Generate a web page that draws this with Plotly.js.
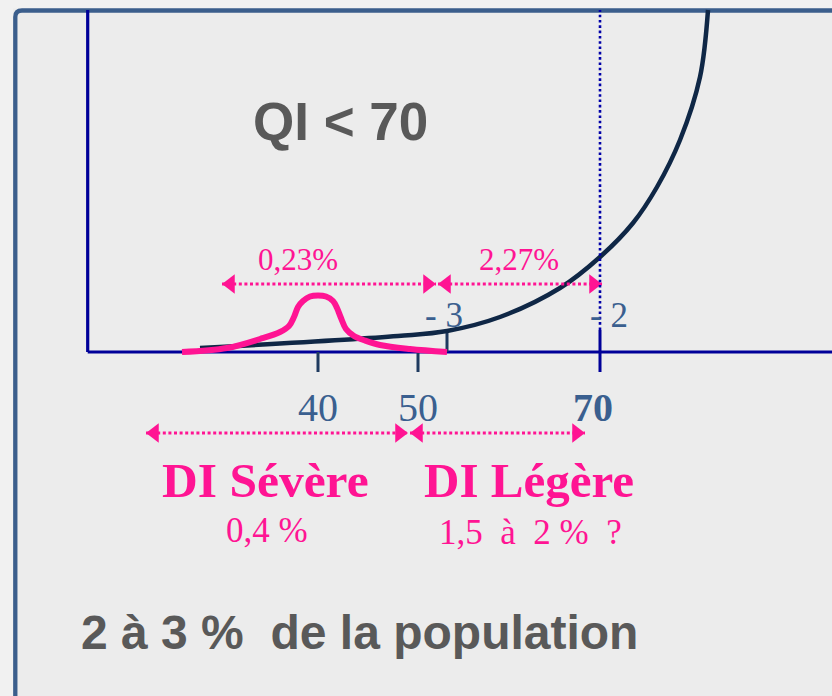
<!DOCTYPE html>
<html>
<head>
<meta charset="utf-8">
<script src="https://cdn.plot.ly/plotly-3.0.1.min.js"></script>
<style>html,body{margin:0;padding:0;background:#ececec;}#chart{width:832px;height:696px;}</style>
</head>
<body>
<div id="chart"></div>
<script>
// ---- data (schematic QI axis; 1 unit = 10 px, y = height above baseline) ----
const curveX = [28.2, 48.0, 52.9, 58.2, 64.2, 68.2, 71.5, 73.9, 76.2, 78.2, 79.0];
const curveY = [4, 16, 21, 35, 64, 95, 129, 165, 212, 275, 342];

const bellX = [26.4, 30.9, 34.2, 36.2, 37.1, 37.6, 38.0, 38.5, 39.2, 40.0, 40.8, 41.5, 41.9, 42.3, 42.8, 43.6, 44.7, 46.2, 49.2, 52.9];
const bellY = [0, 4, 13, 20, 26, 35, 45, 51, 55.5, 56.5, 55.5, 51, 44, 34, 23, 16, 11.5, 7, 3, 0];

const qiTickVals = [40, 50, 68.2];
const qiTickText = ['40', '50', '<b>70</b>'];
const sigmaPos = [52.9, 68.2];
const sigmaText = ['- 3', '- 2'];

const pctRanges = [[30.4, 51.8], [52.0, 68.4]];
const pctLabels = ['0,23%', '2,27%'];
const diRanges = [[22.8, 49.0], [49.2, 66.7]];
const diTitles = ['DI Sévère', 'DI Légère'];
const diShares = ['0,4 %', '1,5\u00a0\u00a0à\u00a0\u00a02 %\u00a0\u00a0?'];

const headline = 'QI < 70';
const footer = '2 à 3 %\u00a0\u00a0de la population';

// ---- styles ----
const PINK = '#ff1493';
const NAVY = '#0f2746';
const AXIS = '#000099';
const SLATE = '#3a5f8f';
const GREY = '#595959';
const SERIF = 'Liberation Serif, serif';
const SANS = 'Liberation Sans, Arial, sans-serif';
const pctY = 68, diY = -81, headSize = 17;
const headOff = headSize / 2 / 10;

const traces = [];
traces.push({x: curveX, y: curveY, mode: 'lines', line: {color: NAVY, width: 4.5, shape: 'spline', smoothing: 1}, hoverinfo: 'skip'});
traces.push({x: bellX, y: bellY, mode: 'lines', line: {color: PINK, width: 6, shape: 'spline', smoothing: 1}, hoverinfo: 'skip'});

function addArrow(r, y) {
  traces.push({x: [r[0], r[1]], y: [y, y], mode: 'lines', line: {color: PINK, width: 3, dash: '3px,2.6px'}, hoverinfo: 'skip'});
  traces.push({x: [r[0] + headOff, r[1] - headOff], y: [y, y], mode: 'markers',
    marker: {symbol: ['triangle-left', 'triangle-right'], size: headSize, color: PINK, line: {width: 0}}, hoverinfo: 'skip'});
}
pctRanges.forEach(r => addArrow(r, pctY));
diRanges.forEach(r => addArrow(r, diY));

const shapes = [
  {type: 'rect', xref: 'paper', yref: 'paper', x0: 0, x1: 13.3/832, y0: 0, y1: 1, fillcolor: '#f1f1f1', line: {width: 0}, layer: 'below'},
  {type: 'rect', xref: 'paper', yref: 'paper', x0: 0, x1: 1, y0: 1 - 8.3/696, y1: 1, fillcolor: '#f1f1f1', line: {width: 0}, layer: 'below'},
  {type: 'path', xref: 'paper', yref: 'paper',
   path: 'M ' + (15.3/832) + ' 0 L ' + (15.3/832) + ' ' + (1 - 17/696) + ' Q ' + (15.3/832) + ' ' + (1 - 10.5/696) + ' ' + (22/832) + ' ' + (1 - 10.5/696) + ' L 1 ' + (1 - 10.5/696),
   line: {color: '#3b5e8c', width: 4.3}, layer: 'below'},
  // axes
  {type: 'line', x0: 16.97, x1: 16.97, y0: 0, y1: 342, line: {color: AXIS, width: 3.2}, layer: 'below'},
  {type: 'line', x0: 16.97, x1: 91.4, y0: 0, y1: 0, line: {color: AXIS, width: 3.2}, layer: 'below'},
  // ticks
  {type: 'line', x0: qiTickVals[0], x1: qiTickVals[0], y0: 0, y1: -20, line: {color: '#1f3a5f', width: 3}, layer: 'below'},
  {type: 'line', x0: qiTickVals[1], x1: qiTickVals[1], y0: 0, y1: -20, line: {color: '#1f3a5f', width: 3}, layer: 'below'},
  {type: 'line', x0: sigmaPos[0], x1: sigmaPos[0], y0: 0, y1: 19, line: {color: '#1f3a5f', width: 3}, layer: 'below'},
  {type: 'line', x0: qiTickVals[2], x1: qiTickVals[2], y0: 22, y1: -20, line: {color: AXIS, width: 3}, layer: 'below'},
  {type: 'line', x0: sigmaPos[1], x1: sigmaPos[1], y0: 22, y1: 342, line: {color: '#0000a8', width: 2.6, dash: '2.6px,2.7px'}, layer: 'above'}
];

const annotations = [];
function ann(x, y, text, size, color, family) {
  annotations.push({x: x, y: y, xref: 'x', yref: 'y', text: text, showarrow: false,
    xanchor: 'center', yanchor: 'middle', font: {size: size, color: color, family: family}});
}
ann(42.2, 230.5, '<b>' + headline + '</b>', 53, GREY, SANS);
ann((pctRanges[0][0] + pctRanges[0][1]) / 2 - 3.1, 93, pctLabels[0], 31, PINK, SERIF);
ann((pctRanges[1][0] + pctRanges[1][1]) / 2 - 0.1, 93, pctLabels[1], 31, PINK, SERIF);
ann(sigmaPos[0] - 0.3, 36.5, sigmaText[0], 35, SLATE, SERIF);
ann(sigmaPos[1] + 0.9, 36.5, sigmaText[1], 35, SLATE, SERIF);
ann(qiTickVals[0], -55.5, qiTickText[0], 40, SLATE, SERIF);
ann(qiTickVals[1], -55.5, qiTickText[1], 40, SLATE, SERIF);
ann(qiTickVals[2] - 0.7, -55.5, qiTickText[2], 40, SLATE, SERIF);
ann(34.7, -128, '<b>' + diTitles[0] + '</b>', 49.5, PINK, SERIF);
ann(61.1, -128, '<b>' + diTitles[1] + '</b>', 49, PINK, SERIF);
ann(34.85, -178, diShares[0], 35, PINK, SERIF);
ann(61.25, -180.5, diShares[1], 35, PINK, SERIF);
ann(44.1, -280.5, '<b>' + footer + '</b>', 48, GREY, SANS);

const layout = {
  width: 832, height: 696,
  margin: {l: 0, r: 0, t: 0, b: 0},
  paper_bgcolor: '#ececec', plot_bgcolor: 'rgba(0,0,0,0)',
  showlegend: false,
  xaxis: {range: [8.2, 91.4], visible: false, fixedrange: true},
  yaxis: {range: [-344, 352], visible: false, fixedrange: true},
  shapes: shapes,
  annotations: annotations
};
traces.forEach(t => t.showlegend = false);
Plotly.newPlot('chart', traces, layout, {staticPlot: true});
</script>
</body>
</html>
